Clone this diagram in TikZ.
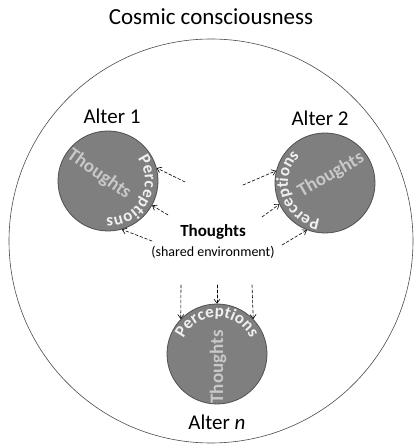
\documentclass[tikz,border=0pt]{standalone}
\usepackage{fontspec}
\setmainfont{Carlito}
\usepackage{xcolor}
\usetikzlibrary{arrows.meta, decorations.text}

\definecolor{altergray}{RGB}{127,127,127}
\definecolor{alteredge}{RGB}{80,80,80}
\definecolor{innertext}{RGB}{200,200,200}
\definecolor{perctext}{RGB}{240,240,240}

\begin{document}
\begin{tikzpicture}[x=1pt, y=1pt, line cap=round, line join=round,
	alter/.style={circle, draw=alteredge, fill=altergray, line width=0.8pt, minimum size=100pt, inner sep=0pt},
	inner/.style={text=innertext, font=\fontsize{19}{19}\selectfont\bfseries},
	altername/.style={font=\fontsize{21}{21}\selectfont},
	link/.style={dash pattern=on 3pt off 2pt, line width=0.6pt, -{Straight Barb[length=4pt, width=6pt]}}]
				\useasboundingbox (0,0) rectangle (417,445);
				\draw[line width=0.6pt, black!70] (211,204) circle (202);
				\node[font=\fontsize{23}{23}\selectfont] (cosmic) at (211,428) {Cosmic consciousness};
				% the three alters
				\node[alter] (A1) at (108,264) {};
				\node[alter] (A2) at (325,262) {};
				\node[alter] (An) at (217,91) {};
				\node[altername] (name1) at (112,329) {Alter 1};
				\node[altername] (name2) at (320,327) {Alter 2};
				\node[altername] (namen) at (217,23) {Alter \textit{n}};
				\node[inner, rotate=-35] (th1) at (99,271) {Thoughts};
				\node[inner, rotate=30] (th2) at (331,270) {Thoughts};
				\node[inner, rotate=90] (thn) at (218,78) {Thoughts};
				\path[decorate, decoration={text along path, text align=center,
					text={|\fontsize{17}{17}\selectfont\bfseries\color{perctext}|Perceptions}}]
					(A1.center) ++(62:37) arc[start angle=62, end angle=-118, radius=37];
				\path[decorate, decoration={text along path, text align=center,
					text={|\fontsize{17}{17}\selectfont\bfseries\color{perctext}|Perceptions}}]
					(A2.center) ++(288:37) arc[start angle=288, end angle=108, radius=37];
				\path[decorate, decoration={text along path, text align=center,
					text={|\fontsize{17}{17}\selectfont\bfseries\color{perctext}|Perceptions}}]
					(An.center) ++(180:37) arc[start angle=180, end angle=0, radius=37];
				% shared environment
				\node[font=\fontsize{17}{17}\selectfont\bfseries] (shared) at (213,213) {Thoughts};
				\node[font=\fontsize{14}{14}\selectfont] (env) at (213,193) {(shared environment)};
				\coordinate (l1) at (185,263);
				\coordinate (l2) at (168,230);
				\coordinate (l3) at (152,204);
				\coordinate (r1) at (243,260);
				\coordinate (r2) at (262,228);
				\coordinate (r3) at (282,200);
				\coordinate (b1) at (181,160);
				\coordinate (b2) at (217,160);
				\coordinate (b3) at (252,160);
				\draw[link] (l1)--(A1.15);
				\draw[link] (l2)--(A1.-29);
				\draw[link] (l3)--(A1.-74);
				\draw[link] (r1)--(A2.166);
				\draw[link] (r2)--(A2.205);
				\draw[link] (r3)--(A2.249);
				\draw[link] (b1)--(An.136);
				\draw[link] (b2)--(An.90);
				\draw[link] (b3)--(An.44);
			\end{tikzpicture}
\end{document}
